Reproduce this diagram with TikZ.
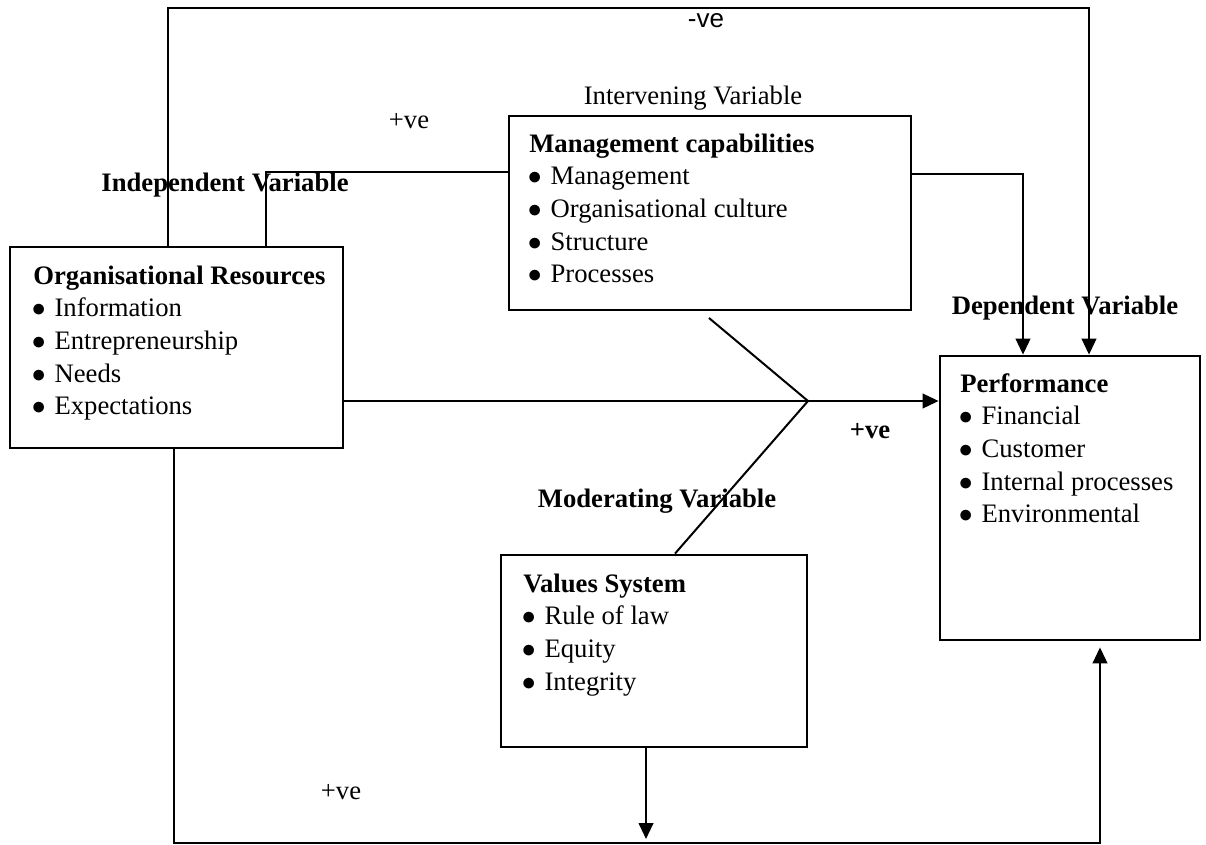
\documentclass[tikz,border=0pt]{standalone}
\usepackage{fontspec}
\setmainfont{Liberation Serif}
\newfontfamily\sansf{Liberation Sans}
\usetikzlibrary{arrows.meta,fit}
\newcommand{\bitem}[1]{\makebox[16pt][l]{\hspace{-1pt}$\bullet$}#1}
\tikzset{
  box/.style={draw, line width=2.1pt, inner sep=0pt},
  conn/.style={line width=1.5pt},
  arr/.style={conn, -{Triangle[length=12pt,width=11pt]}},
  body/.style={anchor=base west, align=left, inner sep=0pt, font=\fontsize{20}{24.5}\selectfont},
  lab/.style={anchor=base, inner sep=0pt, font=\fontsize{20}{24}\selectfont},
  blab/.style={anchor=base, inner sep=0pt, font=\fontsize{20}{24}\selectfont\bfseries},
  slab/.style={anchor=base, inner sep=0pt, font=\fontsize{19.5}{23}\selectfont\sansf},
}
\begin{document}
\begin{tikzpicture}[x=0.75pt,y=-0.75pt]
\useasboundingbox (0,0) rectangle (1206,845);

% boxes
\node[box, fit={(10,247)(343,448)}] (org) {};
\node[box, fit={(509,116)(911,310)}] (mgmt) {};
\node[box, fit={(940,356)(1200,640)}] (perf) {};
\node[box, fit={(501,555)(807,747)}] (values) {};

% box contents (anchored at the baseline of the last line)
\node[body] (orgtxt) at (33,414.7) {{\bfseries Organisational Resources}\\\bitem{Information}\\\bitem{Entrepreneurship}\\\bitem{Needs}\\\bitem{Expectations}};
\node[body] (mgmttxt) at (529,282.7) {{\bfseries Management capabilities}\\\bitem{Management}\\\bitem{Organisational culture}\\\bitem{Structure}\\\bitem{Processes}};
\node[body] (perftxt) at (960,522.7) {{\bfseries Performance}\\\bitem{Financial}\\\bitem{Customer}\\\bitem{Internal processes}\\\bitem{Environmental}};
\node[body] (valtxt) at (523,690) {{\bfseries Values System}\\\bitem{Rule of law}\\\bitem{Equity}\\\bitem{Integrity}};

% labels
\node[slab] (neg) at (706,28) {-ve};
\node[lab] (interv) at (693,105) {Intervening Variable};
\node[lab] (pos1) at (409,129) {+ve};
\node[blab] (indep) at (225,191) {Independent Variable};
\node[blab] (dep) at (1065,314) {Dependent Variable};
\node[blab] (pos2) at (870,438) {+ve};
\node[blab] (moder) at (657,507) {Moderating Variable};
\node[lab] (pos3) at (341,799) {+ve};

% helper coordinates
\coordinate (t1) at (168,8);
\coordinate (t2) at (1089,8);
\coordinate (m1) at (266,172);
\coordinate (m2) at (1023,174);
\coordinate (j) at (808,401);
\coordinate (d1) at (709,318);
\coordinate (v1) at (675,555);
\coordinate (b1) at (646,843);
\coordinate (c1) at (174,843);
\coordinate (c2) at (1100,843);

% connectors
\draw[arr] (org.north -| t1) -- (t1) -- (t2) -- (t2 |- perf.north);
\draw[conn] (mgmt.west |- m1) -- (m1) -- (org.north -| m1);
\draw[arr] (mgmt.east |- m2) -- (m2) -- (m2 |- perf.north);
\draw[arr] (org.east |- j) -- (perf.west |- j);
\draw[conn] (d1) -- (j) -- (values.north -| v1);
\draw[arr, shorten >=3pt] (values.south -| b1) -- (b1);
\draw[arr, shorten >=4.5pt] (org.south -| c1) -- (c1) -- (c2) -- (perf.south -| c2);
\end{tikzpicture}
\end{document}
